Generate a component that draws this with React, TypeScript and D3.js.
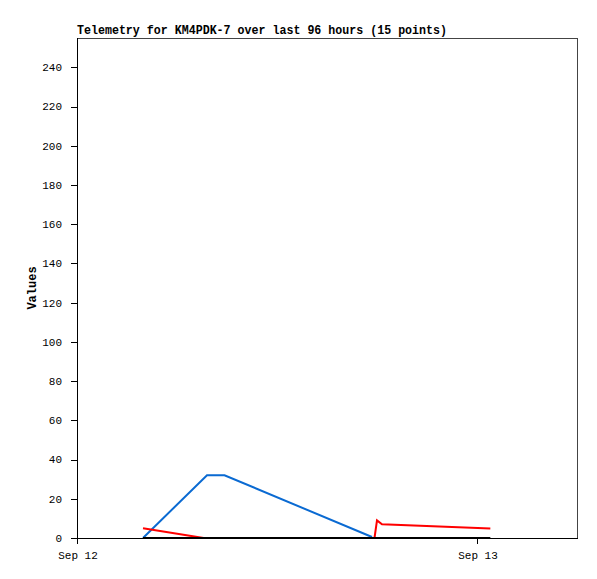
import React from "react";
import * as d3 from "d3";

// hours since Sep 12 00:00
const blueHours = [3.96, 7.8, 8.85, 17.7];
const blueValues = [0, 32, 32, 0.5];
const redHours = [3.96, 7.6, 17.75, 17.85, 18.0, 18.3, 24.8];
const redValues = [5, 0, 0, 0, 9, 7, 4.8];
const blackHours = [3.96, 24.8];
const blackValues = [0, 0];
const yTicks = [0, 20, 40, 60, 80, 100, 120, 140, 160, 180, 200, 220, 240];
const xTickHours = [0, 24];
const xTickLabels = ["Sep 12", "Sep 13"];
const title = "Telemetry for KM4PDK-7 over last 96 hours (15 points)";
const yLabel = "Values";

const W = 597, H = 579;
const m = { left: 77, right: 577, top: 38, bottom: 538 };

export default function App() {
  const x = d3.scaleLinear().domain([0, 30]).range([m.left, m.right]);
  const y = d3.scaleLinear().domain([0, 255]).range([m.bottom, m.top]);
  const line = d3
    .line<[number, number]>()
    .x((d) => x(d[0]))
    .y((d) => y(d[1]));
  const mk = (hs: number[], vs: number[]) => hs.map((h, i) => [h, vs[i]] as [number, number]);
  const mono = "'Liberation Mono', 'DejaVu Sans Mono', monospace";
  return (
    <svg width={W} height={H} style={{ position: "absolute", left: 0, top: 0, background: "#fff" }}>
      <rect x={0} y={0} width={W} height={H} fill="#fff" />
      {/* frame */}
      <path
        d={`M${m.left},${m.top + 0.5}H${m.right + 0.5}V${m.bottom}`}
        fill="none"
        stroke="#444"
        strokeWidth={1}
        shapeRendering="crispEdges"
      />
      {/* axes */}
      <line x1={m.left + 0.5} x2={m.left + 0.5} y1={m.top} y2={m.bottom + 6} stroke="#000" shapeRendering="crispEdges" />
      <line x1={m.left} x2={m.right + 1} y1={m.bottom + 0.5} y2={m.bottom + 0.5} stroke="#000" shapeRendering="crispEdges" />
      {yTicks.map((t) => (
        <g key={t}>
          <line x1={m.left - 6} x2={m.left} y1={Math.round(y(t)) + 0.5} y2={Math.round(y(t)) + 0.5} stroke="#000" shapeRendering="crispEdges" />
          <text x={m.left - 15} y={y(t)} dy="0.35em" textAnchor="end" fontFamily={mono} fontSize={11}>
            {t}
          </text>
        </g>
      ))}
      {xTickHours.map((h, i) => (
        <g key={h}>
          <line x1={Math.round(x(h)) + 0.5} x2={Math.round(x(h)) + 0.5} y1={m.bottom} y2={m.bottom + 6} stroke="#000" shapeRendering="crispEdges" />
          <text x={x(h) + 1} y={559} textAnchor="middle" fontFamily={mono} fontSize={11}>
            {xTickLabels[i]}
          </text>
        </g>
      ))}
      <text x={m.left} y={34} fontFamily={mono} fontWeight="bold" fontSize={13} textLength={370} lengthAdjust="spacingAndGlyphs">
        {title}
      </text>
      <text
        transform={`translate(36,${(m.top + m.bottom) / 2}) rotate(-90)`}
        textAnchor="middle"
        fontFamily={mono}
        fontWeight="bold"
        fontSize={12}
      >
        {yLabel}
      </text>
      <path d={line(mk(blueHours, blueValues)) || ""} fill="none" stroke="#0a6ad2" strokeWidth={2} />
      <path d={line(mk(redHours, redValues)) || ""} fill="none" stroke="#ff0000" strokeWidth={2} />
      <path d={line(mk(blackHours, blackValues)) || ""} fill="none" stroke="#000" strokeWidth={2} />
    </svg>
  );
}
